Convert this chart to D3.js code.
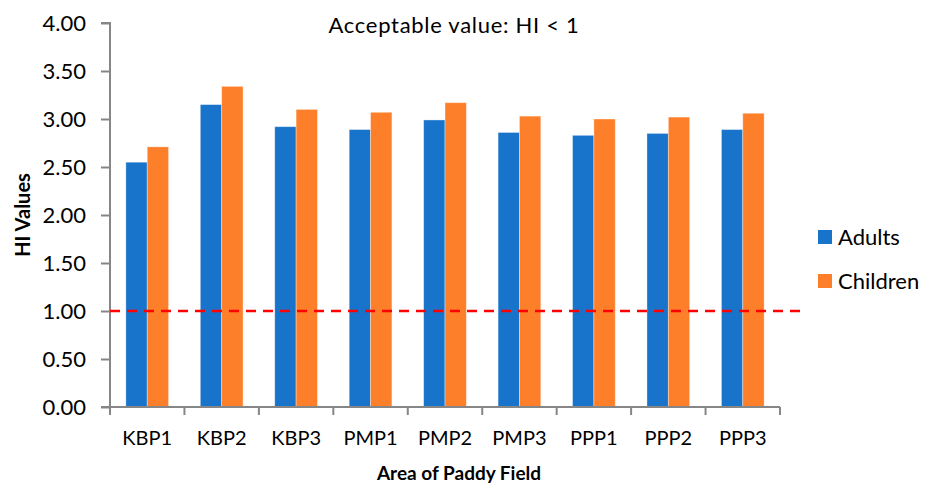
<!DOCTYPE html>
<html>
<head>
<meta charset="utf-8">
<script src="https://cdn.jsdelivr.net/npm/d3@7"></script>
<style>
  body { margin: 0; background: #fff; }
  text { font-family: Lato, "Open Sans", sans-serif; fill: #000; }
</style>
</head>
<body>
<div id="hi-chart"></div>
<script>
// data
const areas = ["KBP1", "KBP2", "KBP3", "PMP1", "PMP2", "PMP3", "PPP1", "PPP2", "PPP3"];
const adults = [2.55, 3.15, 2.92, 2.89, 2.99, 2.86, 2.83, 2.85, 2.89];
const children = [2.71, 3.34, 3.10, 3.07, 3.17, 3.03, 3.00, 3.02, 3.06];
const seriesNames = ["Adults", "Children"];
const yTicks = [0, 0.5, 1, 1.5, 2, 2.5, 3, 3.5, 4];
const limitValue = 1;

const colours = ["#1874CA", "#FE7F2A"];

// Bostock's margin convention
const margin = { top: 23, right: 147, bottom: 80, left: 110 },
  width = 927 - margin.left - margin.right,
  height = 487 - margin.top - margin.bottom;

const svg = d3.select("#hi-chart")
  .append("svg")
    .attr("width", 927)
    .attr("height", 487)
  .append("g")
    .attr("transform", "translate(" + margin.left + "," + margin.top + ")");

let x = d3.scaleBand()
  .domain(areas)
  .range([0, width])
  .padding(0);

// bars of one group take up ~57% of a category
let groupWidth = x.bandwidth() * 0.574;
let xInner = d3.scaleBand()
  .domain(seriesNames)
  .range([0, groupWidth]);

let y = d3.scaleLinear()
  .domain([0, 4])
  .range([height, 0]);

let colour = d3.scaleOrdinal()
  .domain(seriesNames)
  .range(colours);

let rows = areas.map(function (a, i) {
  return { area: a, values: [adults[i], children[i]] };
});

// bars
let groups = svg.selectAll(".group")
  .data(rows)
  .enter().append("g")
  .attr("class", "group")
  .attr("transform", function (d) {
    return "translate(" + (x(d.area) + (x.bandwidth() - groupWidth) / 2) + ",0)";
  });

groups.selectAll("rect")
  .data(function (d) {
    return d.values.map(function (v, i) { return { key: seriesNames[i], value: v }; });
  })
  .enter().append("rect")
  .attr("x", function (d) { return xInner(d.key); })
  .attr("y", function (d) { return y(d.value); })
  .attr("width", xInner.bandwidth())
  .attr("height", function (d) { return height - y(d.value); })
  .attr("fill", function (d) { return colour(d.key); })
  .attr("stroke", "#fff")
  .attr("stroke-opacity", 0.45)
  .attr("stroke-width", 0.8);

// axes
let yAxis = d3.axisLeft(y)
  .tickValues(yTicks)
  .tickSize(9)
  .tickPadding(15)
  .tickFormat(d3.format(".2f"));

let xAxis = d3.axisBottom(x)
  .tickSize(0)
  .tickPadding(24);

svg.append("g")
  .attr("class", "y axis")
  .call(yAxis);

svg.append("g")
  .attr("class", "x axis")
  .attr("transform", "translate(0," + height + ")")
  .call(xAxis);

// category boundary ticks on the x axis
svg.select(".x.axis").selectAll(".bound")
  .data(d3.range(areas.length + 1))
  .enter().append("line")
  .attr("class", "bound")
  .attr("x1", function (i) { return i * x.step(); })
  .attr("x2", function (i) { return i * x.step(); })
  .attr("y1", 0)
  .attr("y2", 8);

svg.selectAll(".axis path, .axis line")
  .attr("stroke", "#868686")
  .attr("stroke-width", 2);

svg.selectAll(".x.axis text")
  .style("font-size", "20px")
  .attr("fill", "#000");

svg.selectAll(".y.axis text")
  .style("font-size", "22px")
  .attr("fill", "#000");

svg.select(".y.axis").select(".domain").attr("d", "M-9," + height + "H0V0H-9");
svg.select(".x.axis").select(".domain").attr("d", "M0,0H" + width);

// limit line HI = 1
svg.append("line")
  .attr("x1", 0)
  .attr("x2", width + 27)
  .attr("y1", y(limitValue))
  .attr("y2", y(limitValue))
  .attr("stroke", "#FF0000")
  .attr("stroke-width", 2.5)
  .attr("stroke-dasharray", "10,7");

// titles
svg.append("text")
  .attr("x", 344)
  .attr("y", 10)
  .attr("text-anchor", "middle")
  .style("font-size", "22px")
  .style("letter-spacing", "0.7px")
  .text("Acceptable value: HI < " + limitValue);

svg.append("text")
  .attr("x", width / 2 + 14)
  .attr("y", height + 73)
  .attr("text-anchor", "middle")
  .style("font-size", "19px")
  .style("font-weight", "bold")
  .text("Area of Paddy Field");

svg.append("text")
  .attr("transform", "translate(-80," + (height / 2) + ") rotate(-90)")
  .attr("text-anchor", "middle")
  .style("font-size", "20px")
  .style("font-weight", "bold")
  .text("HI Values");

// legend
let legend = svg.selectAll(".legend")
  .data(seriesNames)
  .enter().append("g")
  .attr("class", "legend")
  .attr("transform", function (d, i) {
    return "translate(" + (width + 38) + "," + (207 + i * 44) + ")";
  });

legend.append("rect")
  .attr("width", 14)
  .attr("height", 14)
  .attr("fill", function (d) { return colour(d); });

legend.append("text")
  .attr("x", 20)
  .attr("y", 7)
  .attr("dy", ".35em")
  .style("font-size", "22px")
  .text(function (d) { return d; });
</script>
</body>
</html>
